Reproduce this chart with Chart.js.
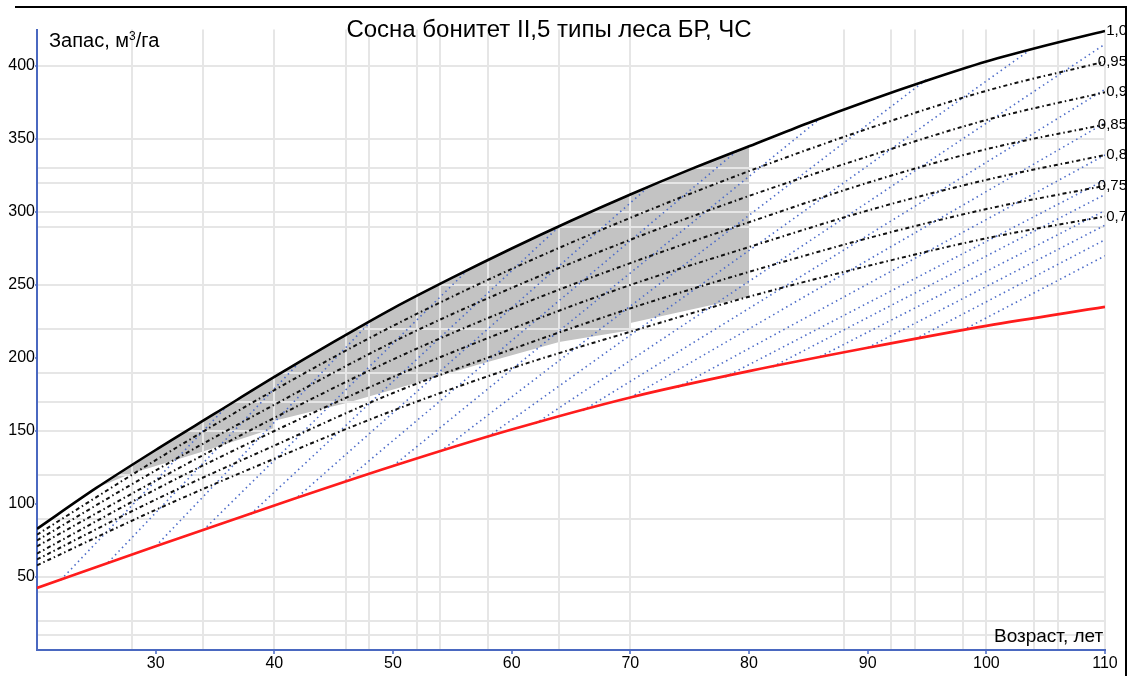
<!DOCTYPE html>
<html>
<head>
<meta charset="utf-8">
<script src="https://cdn.jsdelivr.net/npm/chart.js@4.4.1/dist/chart.umd.min.js"></script>
<style>
  html, body { margin: 0; padding: 0; background: #fff; }
  #wrap { position: relative; width: 1129px; height: 676px; overflow: hidden; font-family: "Liberation Sans", Arial, sans-serif; }
  #c { position: absolute; left: 0; top: 0; }
  .txt { position: absolute; white-space: nowrap; color: #000; line-height: 1; }
  #frame { position: absolute; left: 15px; top: 6px; width: 1110px; height: 700px; border-top: 2px solid #000; border-right: 2px solid #000; pointer-events: none; }
  sup { font-size: 0.6em; vertical-align: 0.55em; line-height: 0; }
</style>
</head>
<body>
<div id="wrap">
  <canvas id="c" width="1129" height="676"></canvas>
  <div id="frame"></div>
  <div class="txt" id="title" style="left:549px; top:17px; font-size:24px; transform:translateX(-50%);">Сосна бонитет II,5 типы леса БР, ЧС</div>
  <div class="txt" style="left:49px; top:30px; font-size:20px;">Запас, м<sup>3</sup>/га</div>
  <div class="txt" style="left:994px; top:626px; font-size:19px;">Возраст, лет</div>
</div>
<script>
// ---- data ----
const ages10 = [20, 30, 40, 50, 60, 70, 80, 90, 100, 110];
const ages5 = [20, 25, 30, 35, 40, 45, 50, 55, 60, 65, 70, 75, 80, 85, 90, 95, 100, 105, 110];
const stock100 = [83, 111, 137, 162, 187, 211, 234, 255, 275, 294, 312, 329, 345, 361, 376, 390, 403, 414, 424];
const stock095 = [79, 130, 178, 222, 261, 296, 328, 357, 383, 403];
const stock090 = [75, 123, 168, 211, 248, 281, 311, 338, 363, 382];
const stock085 = [71, 116, 159, 199, 234, 265, 293, 320, 343, 360];
const stock080 = [66, 110, 150, 187, 220, 250, 276, 301, 322, 339];
const stock075 = [62, 103, 140, 176, 206, 234, 259, 282, 302, 318];
const stock070 = [58, 96, 131, 164, 193, 218, 242, 263, 282, 297];
const stockRed = [42.5, 71, 99, 126, 151, 173, 191, 207, 222, 235];
const densityLabels = ['1,0', '0,95', '0,9', '0,85', '0,8', '0,75', '0,7'];

// grey zone (upper edge left->right, lower edge left->right)
const zoneTopAges = [25, 30, 35, 40, 45, 50, 55, 60, 65, 70, 75, 80];
const zoneTopStock = [111, 137, 162, 187, 211, 234, 255, 275, 294, 312, 329, 345];
const zoneLowAges = [25, 28, 34, 40, 40, 46, 52, 57, 64, 70, 70, 80];
const zoneLowStock = [111, 121, 136, 152, 157, 169, 183, 195, 211, 219, 224, 242];

// blue dotted growth lines
const blueStartAge = [22, 26, 30, 34, 38, 42, 46, 50, 54, 58, 62, 66, 70, 74, 78, 82, 86, 90, 94, 98];
const blueStartStock = [48, 60, 71, 82, 93, 105, 116, 126, 136, 146, 155, 164, 173, 180, 187, 194, 201, 207, 213, 219];
const blueEndAge = [36, 42, 48, 56, 64, 71.5, 79, 86, 95, 103.5, 110, 110, 110, 110, 110, 110, 110, 110, 110, 110];
const blueEndStock = [167, 196, 224, 258, 290, 317, 342, 364, 391, 410, 415, 384, 361, 339, 322, 312, 301, 291, 281, 270];

// axes
const xLabelTicks = [30, 40, 50, 60, 70, 80, 90, 100, 110];
const xGridLines = [28, 34, 40, 46, 48, 52, 54, 58, 64, 70, 88, 92, 94, 98, 100, 104, 106, 110];
const yLabelTicks = [50, 100, 150, 200, 250, 300, 350, 400];
const yGridLines = [10, 20, 40, 50, 90, 120, 150, 170, 190, 220, 250, 290, 300, 320, 330, 350, 400];

// ---- build ----
const pts = (xs, ys) => ys.map((y, i) => ({ x: xs[i], y }));
const AXIS_BLUE = '#4a68c0';
const GRID = '#e6e6e6';
const FONT = "'Liberation Sans', Arial, sans-serif";

const densityDash = [4, 3, 1.5, 3];
const datasets = [];
datasets.push({ data: pts(ages5, stock100), borderColor: '#000', borderWidth: 2.6, cubicInterpolationMode: 'monotone' });
[stock095, stock090, stock085, stock080, stock075, stock070].forEach(s => {
  datasets.push({ data: pts(ages10, s), borderColor: '#111', borderWidth: 2, borderDash: densityDash, cubicInterpolationMode: 'monotone' });
});
datasets.push({ data: pts(ages10, stockRed), borderColor: '#ff1c1c', borderWidth: 2.6, cubicInterpolationMode: 'monotone' });
blueStartAge.forEach((a, i) => {
  datasets.push({ data: [{ x: a, y: blueStartStock[i] }, { x: blueEndAge[i], y: blueEndStock[i] }], borderColor: '#4d6cc8', borderWidth: 1.6, borderDash: [1.5, 3.5] });
});
const zonePoly = pts(zoneTopAges, zoneTopStock).concat(pts(zoneLowAges, zoneLowStock).reverse());
datasets.push({ data: zonePoly, borderWidth: 0, borderColor: 'rgba(0,0,0,0)', fill: 'shape', backgroundColor: '#c3c3c3', tension: 0 });

const curveIdx = [0, 1, 2, 3, 4, 5, 6];

const labelPlugin = {
  id: 'densityLabels',
  afterDatasetsDraw(chart) {
    const ctx = chart.ctx;
    ctx.save();
    ctx.font = '15px ' + FONT;
    ctx.fillStyle = '#000';
    ctx.textAlign = 'right';
    ctx.textBaseline = 'middle';
    curveIdx.forEach((di, k) => {
      const meta = chart.getDatasetMeta(di);
      const p = meta.data[meta.data.length - 1];
      ctx.fillText(densityLabels[k], chart.chartArea.right + 22, p.y);
    });
    ctx.restore();
  }
};

new Chart(document.getElementById('c'), {
  type: 'line',
  data: { datasets },
  plugins: [labelPlugin],
  options: {
    responsive: false,
    animation: false,
    devicePixelRatio: 1,
    layout: { padding: { top: 29.5, right: 24, left: 0, bottom: 0 } },
    elements: { point: { radius: 0 }, line: { tension: 0 } },
    plugins: { legend: { display: false }, tooltip: { enabled: false }, title: { display: false }, filler: { drawTime: 'beforeDraw' } },
    scales: {
      x: {
        type: 'linear', min: 20, max: 110,
        afterBuildTicks: s => { s.ticks = [...new Set([...xGridLines, ...xLabelTicks])].sort((a, b) => a - b).map(v => ({ value: v })); },
        afterFit: s => { s.height = 26; },
        ticks: { autoSkip: false, maxRotation: 0, padding: 0, color: '#000', font: { size: 16, family: FONT }, callback: v => xLabelTicks.includes(v) ? String(v) : '' },
        grid: {
          color: c => (c.tick && xGridLines.includes(c.tick.value)) ? GRID : 'rgba(0,0,0,0)',
          lineWidth: 2,
          tickLength: 4,
          tickColor: c => (c.tick && xLabelTicks.includes(c.tick.value)) ? AXIS_BLUE : 'rgba(0,0,0,0)',
          tickWidth: 1.5
        },
        border: { color: AXIS_BLUE, width: 2 }
      },
      y: {
        type: 'linear', min: 0, max: 425,
        afterBuildTicks: s => { s.ticks = [...new Set([...yGridLines, ...yLabelTicks])].sort((a, b) => a - b).map(v => ({ value: v })); },
        afterFit: s => { s.width = 37; },
        ticks: { autoSkip: false, padding: 0, color: '#000', font: { size: 16, family: FONT }, callback: v => yLabelTicks.includes(v) ? String(v) : '' },
        grid: {
          color: c => (c.tick && yGridLines.includes(c.tick.value)) ? GRID : 'rgba(0,0,0,0)',
          lineWidth: 2,
          tickLength: 2,
          tickColor: c => (c.tick && yLabelTicks.includes(c.tick.value)) ? AXIS_BLUE : 'rgba(0,0,0,0)',
          tickWidth: 1.5
        },
        border: { color: AXIS_BLUE, width: 2 }
      }
    }
  }
});
</script>
</body>
</html>
